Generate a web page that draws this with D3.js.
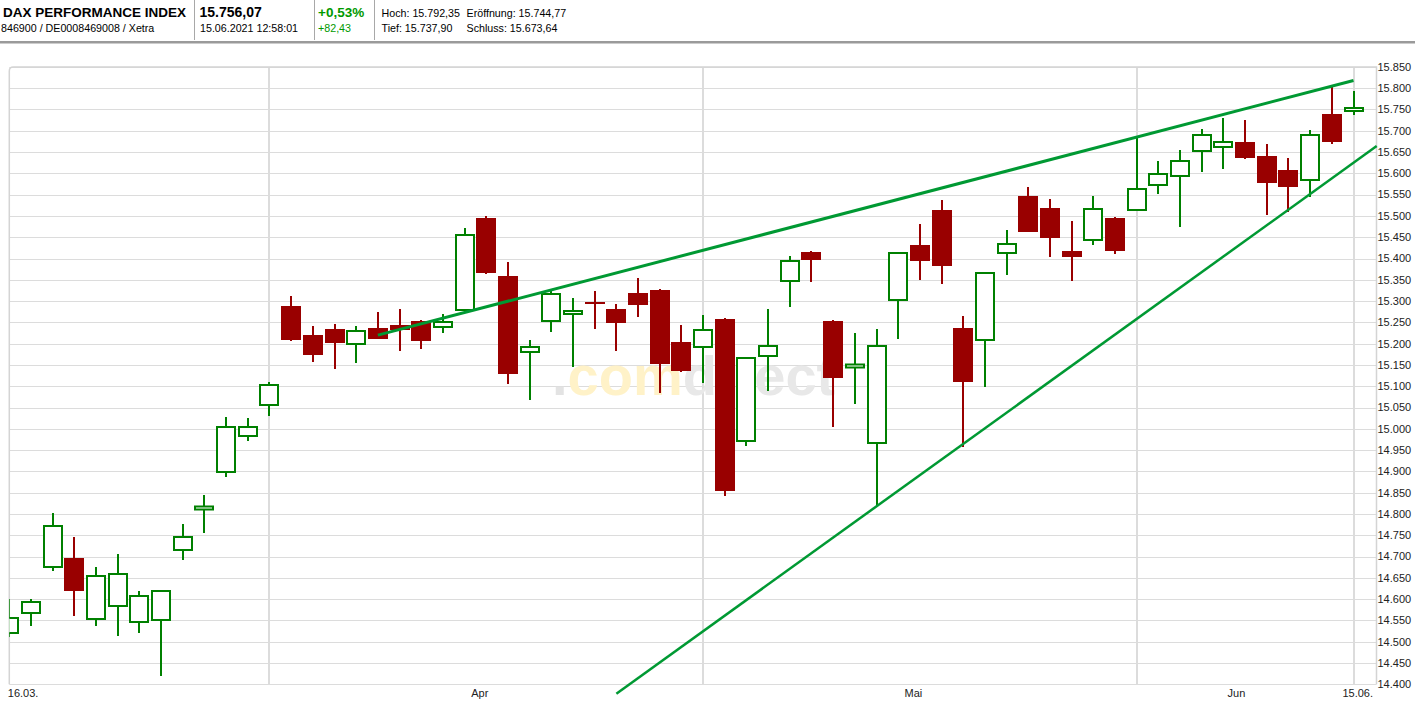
<!DOCTYPE html>
<html><head><meta charset="utf-8">
<script src="https://cdn.jsdelivr.net/npm/d3@7/dist/d3.min.js"></script>
<style>
html,body{margin:0;padding:0;background:#fff;}
svg{display:block;font-family:"Liberation Sans",Arial,sans-serif;}
</style></head>
<body>
<svg id="chart" width="1415" height="704"></svg>
<script>
// ---- data ----
const dates = ["16.03.","17.03.","18.03.","19.03.","22.03.","23.03.","24.03.","25.03.","26.03.","29.03.","30.03.","31.03.",
"01.04.","06.04.","07.04.","08.04.","09.04.","12.04.","13.04.","14.04.","15.04.","16.04.","19.04.","20.04.","21.04.","22.04.","23.04.","26.04.","27.04.","28.04.","29.04.","30.04.",
"03.05.","04.05.","05.05.","06.05.","07.05.","10.05.","11.05.","12.05.","13.05.","14.05.","17.05.","18.05.","19.05.","20.05.","21.05.","25.05.","26.05.","27.05.","28.05.","31.05.",
"01.06.","02.06.","03.06.","04.06.","07.06.","08.06.","09.06.","10.06.","11.06.","14.06.","15.06."];
const open  = [14517,14564,14672,14697,14550,14581,14543,14548,14712,14809,14896,14980,15053,15288,15220,15234,15196,15237,15244,15253,15236,15276,15495,15358,15177,15250,15267,15298,15281,15318,15325,15203,15189,15258,14968,15168,15346,15415,15253,15142,14966,15299,15432,15514,15237,15206,15410,15547,15519,15418,15440,15495,15511,15570,15591,15649,15659,15674,15641,15608,15581,15739,15744.77];
const high  = [14600,14600,14802,14745,14675,14706,14619,14622,14776,14845,15028,15025,15110,15312,15241,15246,15241,15274,15281,15256,15269,15472,15500,15392,15209,15325,15307,15324,15293,15354,15328,15244,15267,15260,15168,15281,15406,15418,15256,15224,15234,15415,15481,15537,15265,15368,15467,15568,15540,15488,15547,15497,15686,15629,15655,15704,15729,15725,15669,15636,15702,15803,15792.35];
const low   = [14510,14538,14667,14561,14538,14514,14521,14420,14693,14755,14888,14972,15031,15207,15158,15141,15155,15210,15183,15188,15226,15276,15364,15106,15068,15228,15146,15235,15183,15263,15083,15134,15108,14843,14960,15090,15287,15345,15005,15058,14819,15212,15350,15341,14958,15099,15362,15463,15404,15348,15432,15411,15511,15551,15475,15604,15611,15634,15502,15510,15545,15670,15737.90];
const close = [14557,14595,14773,14620,14656,14661,14609,14621,14748,14816,15006,15006,15105,15209,15174,15200,15231,15212,15233,15207,15253,15457,15367,15127,15194,15318,15278,15294,15247,15289,15151,15134,15234,14855,15168,15196,15397,15397,15118,15149,15198,15415,15395,15383,15111,15368,15436,15463,15449,15404,15518,15418,15565,15600,15631,15692,15675,15637,15578,15569,15692,15674,15756.07];
// trend lines: [trading-day index, value]
const upperTrend = [[17, 15220], [62, 15818]];
const lowerTrend = [[28, 14378], [63.07, 15664]];
// y ticks
const yTicks = d3.range(14400, 15851, 50);
// x axis labels (trading-day index positions)
const xLabels = ["16.03.", "Apr", "Mai", "Jun", "15.06."];
const xLabelPos = [0, 21.7, 41.7, 56.6, 62];
// header
const title = "DAX PERFORMANCE INDEX";
const subtitle = "846900 / DE0008469008 / Xetra";
const lastPrice = "15.756,07";
const timeStamp = "15.06.2021 12:58:01";
const changePct = "+0,53%";
const changeAbs = "+82,43";
const stats = [["Hoch: 15.792,35","Eröffnung: 15.744,77"],["Tief: 15.737,90","Schluss: 15.673,64"]];

// ---- drawing ----
const svg = d3.select("#chart");
const W = 1415, H = 704;
const plot = {left: 9.3, right: 1376.5, top: 66.9, bottom: 684.3};
const x = d3.scaleLinear().domain([0, 62]).range([9.3, 1353.5]);
const y = d3.scaleLinear().domain([14400, 15850]).range([plot.bottom, plot.top]);
const step = x(1) - x(0);
const bodyW = Math.round(step * 0.91);
const de = d3.formatLocale({decimal: ",", thousands: ".", grouping: [3], currency: ["", "€"]});
const fmt = de.format(",.0f");

// header
const hdr = svg.append("g");
hdr.append("text").attr("x", 3).attr("y", 17).attr("font-size", 13.5).attr("font-weight", "bold").attr("fill", "#000").text(title);
hdr.append("text").attr("x", 1).attr("y", 31.5).attr("font-size", 10.7).attr("fill", "#000").text(subtitle);
hdr.append("text").attr("x", 199.5).attr("y", 17).attr("font-size", 14).attr("font-weight", "bold").attr("fill", "#000").text(lastPrice);
hdr.append("text").attr("x", 200).attr("y", 31.5).attr("font-size", 10.7).attr("fill", "#000").text(timeStamp);
hdr.append("text").attr("x", 318).attr("y", 17).attr("font-size", 13.5).attr("font-weight", "bold").attr("fill", "#009900").text(changePct);
hdr.append("text").attr("x", 318).attr("y", 31.5).attr("font-size", 10.7).attr("fill", "#009900").text(changeAbs);
stats.forEach((row, r) => {
  row.forEach((t, c) => {
    hdr.append("text").attr("x", c === 0 ? 381.5 : 466.5).attr("y", r === 0 ? 17 : 31.5)
      .attr("font-size", 10.7).attr("fill", "#000").text(t);
  });
});
[194.5, 314.5, 374.5].forEach(sx => {
  hdr.append("line").attr("x1", sx).attr("x2", sx).attr("y1", 0).attr("y2", 40).attr("stroke", "#a8a8a8").attr("stroke-width", 1);
});
hdr.append("rect").attr("x", 0).attr("y", 41).attr("width", W).attr("height", 2.5).attr("fill", "#9a9a9a");

// grid
const grid = svg.append("g");
grid.selectAll("line.h").data(yTicks).join("line")
  .attr("x1", plot.left).attr("x2", plot.right)
  .attr("y1", d => Math.round(y(d)) + 0.5).attr("y2", d => Math.round(y(d)) + 0.5)
  .attr("stroke", "#dcdcdc").attr("stroke-width", 1);
// vertical gridlines at first trading day of each month + last day
const monthStarts = dates.map((d, i) => i).filter(i => i > 0 && dates[i].slice(3) !== dates[i - 1].slice(3));
monthStarts.push(dates.length - 1);
grid.selectAll("line.v").data(monthStarts).join("line")
  .attr("x1", d => Math.round(x(d))).attr("x2", d => Math.round(x(d)))
  .attr("y1", plot.top).attr("y2", plot.bottom)
  .attr("stroke", "#dcdcdc").attr("stroke-width", 2);
// frame
grid.append("path")
  .attr("d", `M${plot.left},${plot.bottom} L${plot.left},${plot.top + 4} Q${plot.left},${plot.top} ${plot.left + 4},${plot.top} L${plot.right},${plot.top} L${plot.right},${plot.bottom}`)
  .attr("fill", "none").attr("stroke", "#d4d4d4").attr("stroke-width", 1.5);

// watermark
const wm = svg.append("text").attr("x", 552).attr("y", 395).attr("font-size", 56).attr("font-weight", "bold");
wm.append("tspan").attr("fill", "#e3e3e3").text(".");
wm.append("tspan").attr("fill", "#fff2c8").text("com");
wm.append("tspan").attr("fill", "#e8e8e8").text("direct");

// y axis labels
svg.append("g").selectAll("text").data(yTicks).join("text")
  .attr("x", 1377.5).attr("y", d => y(d)).attr("dy", "0.35em")
  .attr("font-size", 11).attr("fill", "#222").text(d => fmt(d));

// x axis labels
svg.append("g").selectAll("text").data(xLabels).join("text")
  .attr("x", (d, i) => i === 0 ? x(xLabelPos[i]) - 1.5 : (i === xLabels.length - 1 ? x(xLabelPos[i]) + 19.5 : x(xLabelPos[i])))
  .attr("y", 697)
  .attr("text-anchor", (d, i) => i === 0 ? "start" : (i === xLabels.length - 1 ? "end" : "middle"))
  .attr("font-size", 11).attr("fill", "#222").text(d => d);

// candles
const candles = dates.map((d, i) => ({i, o: open[i], h: high[i], l: low[i], c: close[i], up: close[i] >= open[i]}));
const GREEN = "#008000", RED = "#990000";
svg.append("defs").append("clipPath").attr("id", "clipPlot").append("rect")
  .attr("x", plot.left).attr("y", 0).attr("width", plot.right - plot.left).attr("height", H);
const cg = svg.append("g").attr("clip-path", "url(#clipPlot)");
const cx = d => Math.round(x(d.i));
cg.selectAll("line.wick").data(candles).join("line")
  .attr("x1", cx).attr("x2", cx)
  .attr("y1", d => Math.round(y(d.h))).attr("y2", d => Math.round(y(d.l)))
  .attr("stroke", d => d.up ? GREEN : RED).attr("stroke-width", 2);
cg.selectAll("rect.body").data(candles).join("rect")
  .attr("x", d => d.up ? cx(d) - bodyW / 2 + 1 : cx(d) - bodyW / 2)
  .attr("width", d => d.up ? bodyW - 2 : bodyW)
  .attr("y", d => {
    const top = Math.round(y(Math.max(d.o, d.c)));
    if (!d.up) return top;
    const hh = Math.round(Math.abs(y(d.o) - y(d.c)));
    return hh - 2 >= 3 ? top + 1 : top - 0.5;
  })
  .attr("height", d => {
    const hh = Math.round(Math.abs(y(d.o) - y(d.c)));
    return d.up ? Math.max(3, hh - 2) : Math.max(2, hh);
  })
  .attr("fill", d => d.up ? "#fff" : RED)
  .attr("stroke", d => d.up ? GREEN : "none")
  .attr("stroke-width", 2);

// trend lines
const tl = d3.line().x(d => x(d[0])).y(d => y(d[1]));
svg.append("path").attr("d", tl(upperTrend)).attr("fill", "none").attr("stroke", "#009933").attr("stroke-width", 3);
svg.append("path").attr("d", tl(lowerTrend)).attr("fill", "none").attr("stroke", "#009933").attr("stroke-width", 2.5);
</script>
</body></html>
